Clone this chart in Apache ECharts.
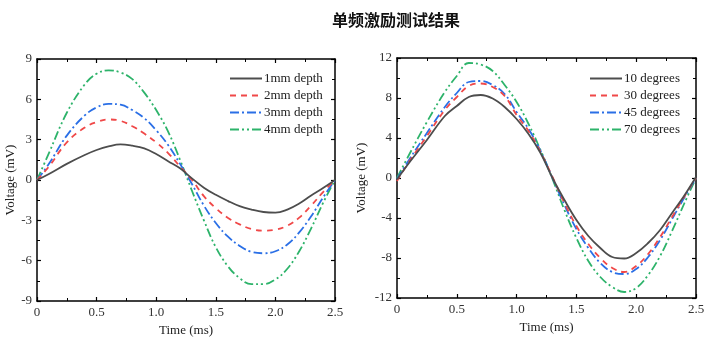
<!DOCTYPE html>
<html>
<head>
<meta charset="utf-8">
<script src="https://cdn.jsdelivr.net/npm/echarts@6/dist/echarts.min.js"></script>
<style>
  html, body { margin: 0; padding: 0; background: #fff; }
  #chart { width: 728px; height: 343px; }
</style>
</head>
<body>
<div id="chart"></div>
<script>
// Sample times (ms), shared by every curve
const times = [0, 0.1, 0.25, 0.4, 0.5, 0.6, 0.7, 0.8, 0.9, 1.0, 1.1, 1.2, 1.3, 1.4, 1.5, 1.6, 1.7, 1.8, 1.9, 2.0, 2.1, 2.2, 2.3, 2.4, 2.5];

// Left panel: voltage (mV) for each defect depth
const depthNames = ['1mm depth', '2mm depth', '3mm depth', '4mm depth'];
const depth1 = [0, 0.45, 1.2, 1.86, 2.23, 2.5, 2.65, 2.55, 2.35, 1.93, 1.4, 0.87, 0.12, -0.57, -1.1, -1.55, -1.95, -2.2, -2.38, -2.43, -2.2, -1.75, -1.15, -0.6, 0];
const depth2 = [0, 1.0, 2.8, 3.9, 4.3, 4.5, 4.4, 4.0, 3.45, 2.8, 2.0, 1.0, 0.0, -1.2, -2.1, -2.8, -3.3, -3.65, -3.77, -3.7, -3.4, -2.8, -1.9, -0.9, 0];
const depth3 = [0, 1.2, 3.3, 4.8, 5.4, 5.66, 5.6, 5.2, 4.6, 3.7, 2.6, 1.2, -0.3, -1.9, -3.2, -4.2, -4.9, -5.35, -5.45, -5.3, -4.8, -3.9, -2.7, -1.3, 0];
const depth4 = [0, 2.0, 5.0, 7.1, 7.9, 8.15, 8.0, 7.5, 6.5, 5.2, 3.6, 1.5, -0.8, -3.0, -5.0, -6.4, -7.3, -7.75, -7.75, -7.4, -6.6, -5.3, -3.6, -1.7, 0];

// Right panel: voltage (mV) for each angle
const angleNames = ['10 degrees', '30 degrees', '45 degrees', '70 degrees'];
const deg10 = [-0.15, 1.5, 3.8, 6.2, 7.2, 8.1, 8.3, 7.95, 7.1, 5.9, 4.4, 2.5, 0, -2.2, -4.2, -5.8, -7.0, -7.9, -8.05, -7.5, -6.5, -5.2, -3.5, -1.8, 0.1];
const deg30 = [-0.3, 1.6, 4.2, 6.8, 8.1, 9.2, 9.45, 9.1, 8.2, 6.3, 4.7, 2.6, 0.1, -2.5, -4.8, -6.6, -8.0, -9.0, -9.4, -8.8, -7.6, -5.9, -3.9, -1.9, 0];
const deg45 = [-0.1, 1.8, 4.5, 7.1, 8.5, 9.6, 9.7, 9.3, 8.4, 6.6, 4.9, 2.7, 0, -2.7, -5.1, -7.0, -8.5, -9.4, -9.6, -9.1, -7.9, -6.2, -4.1, -2.0, 0];
const deg70 = [0, 2.3, 5.6, 8.6, 10.2, 11.5, 11.35, 10.7, 9.3, 7.6, 5.4, 2.8, -0.1, -3.2, -6.0, -8.3, -9.9, -10.9, -11.4, -11.0, -9.7, -7.8, -5.3, -2.6, 0];

const leftTicks = { min: -9, max: 9, interval: 3 };
const rightTicks = { min: -12, max: 12, interval: 4 };
const timeTicks = { min: 0, max: 2.5, interval: 0.5 };

const colors = ['#4d4d4d', '#f04848', '#2a6fe6', '#2db36a'];
const dashes = ['solid', [6, 5], [9, 3, 2, 3], [9, 3, 2, 3, 2, 3]];
const serif = 'Liberation Serif';

function pairs(vals) { return times.map((t, i) => [t, vals[i]]); }

function lineSeries(name, vals, k, axisIdx) {
  return {
    name: name, type: 'line', smooth: 0.4, symbol: 'none',
    xAxisIndex: axisIdx, yAxisIndex: axisIdx,
    data: pairs(vals),
    lineStyle: { color: colors[k], width: 1.8, type: dashes[k] },
    itemStyle: { color: colors[k] },
    z: 10 - k
  };
}

function xAxisFor(grid, showLabels, position) {
  return {
    type: 'value', gridIndex: grid, position: position,
    min: timeTicks.min, max: timeTicks.max, interval: timeTicks.interval,
    name: showLabels ? 'Time (ms)' : '', nameLocation: 'middle', nameGap: 22,
    nameTextStyle: { fontFamily: serif, fontSize: 13, color: '#222' },
    axisLine: { show: true, onZero: false, lineStyle: { color: '#000', width: 1.5 } },
    axisTick: { show: true, inside: true, length: 4, lineStyle: { color: '#000', width: 1.2 } },
    minorTick: { show: true, splitNumber: 2, length: 3, lineStyle: { color: '#000', width: 1 } },
    axisLabel: {
      show: showLabels, fontFamily: serif, fontSize: 13, color: '#333', margin: 5,
      formatter: v => (v === 0 ? '0' : v.toFixed(1))
    },
    splitLine: { show: false }
  };
}

function yAxisFor(grid, ticks, showLabels, position, gap) {
  return {
    type: 'value', gridIndex: grid, position: position,
    min: ticks.min, max: ticks.max, interval: ticks.interval,
    name: showLabels ? 'Voltage (mV)' : '', nameLocation: 'middle', nameGap: gap, nameRotate: 90,
    nameTextStyle: { fontFamily: serif, fontSize: 13, color: '#222' },
    axisLine: { show: true, onZero: false, lineStyle: { color: '#000', width: 1.5 } },
    axisTick: { show: true, inside: true, length: 4, lineStyle: { color: '#000', width: 1.2 } },
    minorTick: { show: true, splitNumber: 2, length: 3, lineStyle: { color: '#000', width: 1 } },
    axisLabel: { show: showLabels, fontFamily: serif, fontSize: 13, color: '#333', margin: 5 },
    splitLine: { show: false }
  };
}

function legendFor(names, left) {
  return {
    data: names, orient: 'vertical', left: left, top: 67,
    itemWidth: 32, itemHeight: 12, itemGap: 4,
    itemStyle: { opacity: 0 },
    textStyle: { fontFamily: serif, fontSize: 13, color: '#222', padding: [0, 0, 0, -3] },
    selectedMode: false
  };
}

const chart = echarts.init(document.getElementById('chart'), null, { renderer: 'canvas' });
chart.setOption({
  animation: false,
  backgroundColor: '#fff',
  title: {
    text: '单频激励测试结果', left: 327, top: 7,
    textStyle: { fontFamily: 'Noto Sans CJK SC', fontSize: 16, fontWeight: 'bold', color: '#111' }
  },
  legend: [legendFor(depthNames, 224), legendFor(angleNames, 584)],
  grid: [
    { left: 37, top: 59, width: 298, height: 242 },
    { left: 397, top: 58, width: 299, height: 240 }
  ],
  xAxis: [
    xAxisFor(0, true, 'bottom'), xAxisFor(1, true, 'bottom'),
    xAxisFor(0, false, 'top'), xAxisFor(1, false, 'top')
  ],
  yAxis: [
    yAxisFor(0, leftTicks, true, 'left', 19), yAxisFor(1, rightTicks, true, 'left', 29),
    yAxisFor(0, leftTicks, false, 'right', 0), yAxisFor(1, rightTicks, false, 'right', 0)
  ],
  series: [
    lineSeries(depthNames[0], depth1, 0, 0),
    lineSeries(depthNames[1], depth2, 1, 0),
    lineSeries(depthNames[2], depth3, 2, 0),
    lineSeries(depthNames[3], depth4, 3, 0),
    lineSeries(angleNames[0], deg10, 0, 1),
    lineSeries(angleNames[1], deg30, 1, 1),
    lineSeries(angleNames[2], deg45, 2, 1),
    lineSeries(angleNames[3], deg70, 3, 1)
  ]
});
</script>
</body>
</html>
